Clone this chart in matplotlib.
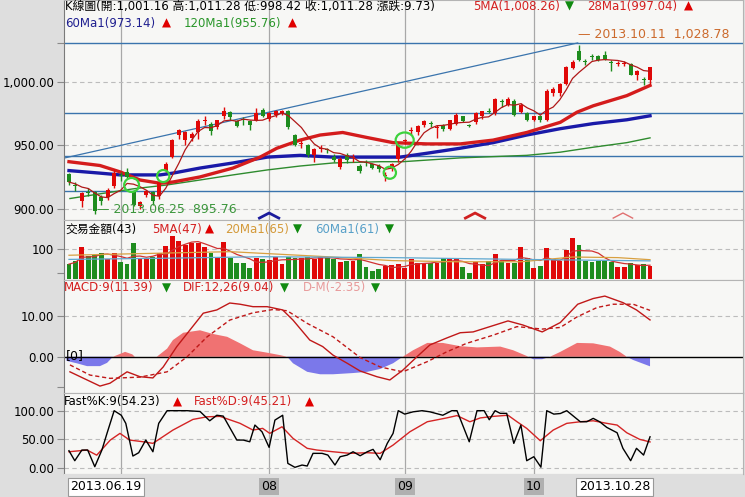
import numpy as np
import pandas as pd
import matplotlib
matplotlib.use('Agg')
import matplotlib.pyplot as plt
from matplotlib.patches import Ellipse

plt.rcParams['font.family'] = ['DejaVu Sans', 'Noto Sans CJK TC']

# ---- daily candles (2013.06.19 - 2013.10.28) ----
opens = [927, 918.5, 906, 913, 913, 909, 909, 918, 926, 929,
         914, 902, 911, 913, 910, 930, 941, 958, 954, 956,
         960, 969, 967, 964, 973, 976, 969, 969.8, 969, 970,
         978, 971, 974, 975, 977, 958, 951, 950, 942, 947,
         946.4, 941, 933, 942, 940, 934, 936.3, 935, 934, 925.8,
         932, 939, 953, 961.5, 960, 966, 967.3, 963.7, 966, 963,
         967, 972.6, 966, 968, 973, 976.3, 975, 984.3, 982, 985,
         976, 975, 970, 973, 970, 991, 991, 998, 1011, 1024,
         1015.9, 1019.7, 1020, 1021, 1015.3, 1013.7, 1013.7, 1014, 1005.5, 1001.8,
         1001.16]
highs = [928, 921, 913, 916, 914, 911, 916, 931, 929, 932,
         915, 906, 915, 914, 922, 937, 955, 963, 961, 960,
         971, 973, 968, 970, 980, 977, 970, 972, 970, 979,
         979, 976, 978, 978, 978, 959, 954, 951, 948, 950,
         948, 943, 941, 944, 943, 935, 938, 936, 935, 929,
         936, 951, 955, 964, 966, 970, 969, 966, 967, 970,
         975, 973, 967, 976, 977, 979, 987, 986, 988, 986,
         983, 976, 973, 974, 994, 996, 999, 1012, 1017, 1028.78,
         1018, 1022, 1021, 1024, 1017, 1016, 1016, 1015, 1009, 1004,
         1011.28]
lows = [919, 914, 901, 910, 895.76, 903, 907, 916, 922, 924,
        902, 900, 909, 903, 908, 929, 940, 955, 950, 953,
        955, 966, 958, 963, 971, 970, 964, 966, 962, 969,
        972, 969, 972, 974, 963, 949, 948, 941, 937, 945,
        944, 937, 931, 936, 937, 928, 934, 931, 929, 922,
        930, 937, 951, 958, 958, 964, 964, 956, 961, 962,
        966, 968, 964, 967, 971, 975, 974, 980, 981, 973,
        975, 969, 969, 968, 969, 989, 989, 997, 1010, 1016,
        1013, 1017, 1016, 1017, 1008.6, 1012, 1012, 1005, 1001.5, 997,
        998.42]
closes = [921, 918, 912, 912.5, 898, 906, 915, 928, 925.5, 925,
          903, 905, 914, 906, 921, 935, 954, 962, 960, 959,
          969, 969.5, 961, 969.5, 976.6, 972, 965, 969.5, 966, 975,
          973, 975, 977, 977, 964, 950, 951.5, 942, 947, 947.6,
          946, 938, 939, 938, 940.3, 930, 936, 932, 931, 926,
          935, 950, 953.3, 961.7, 965, 969, 967, 964, 963, 969.5,
          974, 969, 965, 975, 976.6, 976, 986.7, 984, 986.7, 974,
          982, 970, 972.6, 970, 993, 994.5, 998, 1011.7, 1015.6, 1017,
          1015.6, 1019.5, 1017, 1018, 1015, 1014, 1014, 1005.5, 1008.6, 1001.55,
          1011.28]
volume = [50, 62, 107, 78, 80, 89, 66, 86, 58, 50,
          122, 70, 66, 75, 86, 111, 145, 129, 114, 122,
          120, 109, 89, 73, 126, 70, 55, 53, 36, 70,
          66, 64, 73, 50, 73, 70, 70, 75, 66, 73,
          75, 66, 58, 62, 61, 84, 39, 28, 33, 44,
          47, 50, 36, 66, 55, 55, 55, 55, 70, 66,
          66, 39, 19, 58, 50, 61, 84, 62, 53, 53,
          109, 70, 36, 44, 103, 66, 62, 98, 139, 114,
          62, 58, 62, 62, 58, 39, 39, 53, 47, 50,
          43]

# long moving averages (day index, value)
ma28_x = [0, 4.8, 7.9, 11.0, 14.1, 16.1, 20.3, 25.4, 29.6, 32.2, 35.8, 38.9, 42.4,
          46.2, 50.2, 55.5, 60.6, 65.7, 70.9, 76.1, 78.7, 81.2, 86.4, 90]
ma28_y = [937, 934, 929, 922.6, 920, 921, 925, 932, 940.6, 947.6, 954, 958, 960,
          956, 952, 951, 951, 954, 960, 968, 976, 981, 989, 997.04]
ma60_x = [0, 4.8, 7.9, 14.1, 16.1, 20.3, 25.4, 30.7, 35.8, 40.9, 45.1, 51.3, 55.5,
          60.6, 65.7, 70.9, 76.1, 81.2, 86.4, 90]
ma60_y = [930, 928, 926.6, 926.6, 928, 932, 936, 940.6, 942, 940.6, 940.6, 940.6, 943.7,
          947.6, 952, 958, 963, 967, 970, 973.14]
ma120_x = [0.15, 4.8, 9.9, 15.2, 20.3, 25.4, 30.7, 35.8, 40.9, 48.2, 51.7, 60.6, 70.9,
           76.1, 81.2, 86.4, 90]
ma120_y = [908, 911.7, 915.6, 918.7, 922.6, 926.6, 930.5, 933.6, 936, 937, 937, 940, 942,
           944.5, 948.4, 952, 955.76]

# drawn support / resistance lines
h_levels = [1030.5, 975.5, 941.6, 914.0]
trend_x = [-0.8, 78.8]
trend_y = [939.8, 1030.5]

# volume moving averages (read)
vma20_x = [0, 10, 25, 40, 50, 60, 70, 78, 85, 90]
vma20_y = [80, 85, 92, 75, 62, 58, 58, 74, 72, 65]
vma60_x = [0, 15, 30, 50, 70, 90]
vma60_y = [66, 70, 75, 72, 66, 61]

# MACD panel (read)
dif_x = [0.15, 4.8, 6.35, 9.0, 11.0, 13.0, 14.6, 16.7, 20.8, 22.9, 24.9, 26.5, 28.5, 30.7,
         33.1, 34.7, 37.3, 39.3, 40.9, 43.1, 45.1, 47.7, 49.7, 51.7, 53.9, 55.9, 58.5,
         60.6, 62.6, 65.2, 68.0, 70.3, 73.3, 76.1, 78.8, 81.2, 83.0, 85.8, 87.9, 90]
dif_y = [-3.7, -7.2, -6.5, -3.7, -4.9, -5.2, -2.5, 2.5, 10.7, 11.5, 13.2, 12.9, 12.3, 12.3,
         11.5, 9.0, 4.1, 2.5, 0.4, -1.6, -3.5, -4.9, -5.7, -3.3, 0.0, 2.9, 4.6,
         5.9, 6.1, 7.4, 8.8, 7.8, 6.1, 8.4, 12.9, 14.3, 14.9, 13.3, 11.5, 9.04]
macd_x = [0.15, 3.25, 6.35, 11.0, 15.2, 18.3, 21.4, 24.9, 28.5, 31.6, 33.8, 36.9, 40.9,
          45.1, 48.2, 51.7, 55.5, 58.5, 61.6, 65.7, 69.4, 73.3, 76.1, 78.7, 81.8, 84.3,
          87.4, 90]
macd_y = [-2.0, -4.5, -5.3, -5.0, -3.7, 0.0, 4.9, 9.0, 10.8, 11.6, 11.3, 8.2, 4.9,
          -0.2, -2.5, -3.7, -1.2, 1.2, 3.3, 5.3, 7.4, 6.8, 7.2, 9.8, 12.1, 12.9,
          12.9, 11.39]
hist_x = [-0.4, 1.2, 2.8, 4.8, 5.9, 6.8, 7.6, 8.7, 9.8, 10.2, 13.6, 15.2, 16.1, 17.7,
          20.3, 22.3, 24.5, 26.5, 28.5, 30.7, 32.7, 33.8, 34.7, 36.9, 38.9, 40.9, 44.0,
          46.2, 48.2, 50.2, 51.7, 53.3, 55.5, 57.9, 60.6, 63.2, 66.8, 68.8, 70.9, 71.9,
          73.3, 74.5, 76.1, 78.7, 81.2, 83.8, 85.3, 86.4, 87.4, 90.0]
hist_y = [-1.0, -1.6, -2.3, -2.3, -1.5, 0.0, 0.5, 1.2, 0.6, 0.0, 0.0, 2.0, 4.1, 5.9,
          6.5, 5.6, 4.9, 3.3, 1.6, 1.0, 0.4, 0.0, -1.6, -3.7, -4.3, -4.3, -4.0,
          -3.7, -3.0, -1.6, 0.0, 1.6, 3.4, 3.4, 2.6, 2.3, 2.5, 1.6, 0.2, -0.6,
          -0.6, 0.0, 1.2, 3.4, 3.3, 2.5, 1.2, 0.0, -0.8, -2.35]

# Fast KD panel (read)
k_x = [0, 0.9, 2.0, 2.9, 4.0, 5.1, 5.9, 7.0, 8.1, 8.8, 9.9, 10.8, 11.9, 13.0, 13.9, 15.2,
       18.3, 20.3, 21.8, 22.9, 23.9, 26.0, 27.0, 28.0, 28.8, 29.9, 31.0, 31.9, 33.1, 33.9,
       35.0, 36.1, 36.9, 37.8, 39.2, 40.1, 41.2, 42.0, 43.1, 44.0, 45.1, 46.2, 47.1, 48.2,
       49.3, 50.2, 51.0, 52.0, 53.3, 54.7, 55.9, 57.9, 59.3, 60.1, 62.0, 63.2, 64.3, 65.1,
       66.0, 66.8, 67.8, 68.9, 70.0, 70.9, 72.0, 73.1, 74.0, 75.1, 76.1, 77.1, 79.2, 80.2,
       81.2, 82.2, 83.3, 84.9, 85.8, 87.0, 87.9, 89.0, 90]
k_y = [29.8, 12.3, 31, 31, 1.8, 31, 60.6, 100, 92, 77.8, 20.5, 26.3, 48.5, 28, 77.8, 100,
       100, 98.6, 82.3, 92, 90.5, 48.5, 48.5, 45.5, 74.8, 63, 35.7, 83.5, 92, 7.6,
       0.7, 4.7, 3, 25.2, 25.2, 22.2, 4.7, 19.3, 22.2, 28, 21, 28, 32.2, 14,
       42.7, 60.2, 100, 94, 98, 100, 98, 92, 100, 100, 45.5, 100, 100, 84.1,
       100, 95.3, 95.3, 42.7, 74.8, 12.3, 19.3, 1.0, 100, 94, 95, 100, 80.6, 80.6,
       86.5, 80.6, 70.7, 61.3, 34, 12.3, 34, 22.2, 54.23]
d_x = [0, 2.8, 4.3, 6.4, 7.9, 9.4, 11.5, 13.0, 16.1, 19.2, 21.4, 23.4, 26.5, 28.5, 30.0,
       31.1, 33.0, 34.7, 36.9, 38.4, 40.9, 43.5, 46.2, 48.2, 50.2, 52.8, 55.5, 58.5, 60.1,
       62.1, 63.7, 65.7, 68.0, 69.4, 70.9, 73.0, 75.0, 77.1, 79.2, 81.2, 83.3, 84.9, 86.4,
       88.4, 90]
d_y = [28, 31, 22, 48.5, 60.2, 48.5, 45.5, 42.7, 66, 84.7, 89.3, 90, 77.8, 66, 69,
       60.2, 71.8, 51.5, 34, 31, 28, 25.2, 26.3, 25.2, 39.7, 63, 80.6, 87.3, 91.4,
       80.6, 87.3, 90, 92, 80.6, 69, 47.3, 66, 77.8, 80.6, 82.3, 77.8, 74.8, 61.3,
       49.7, 45.21]

month_idx = [8, 31, 52, 72]
month_labels = ['', '08', '09', '10']
circles = [(9.7, 918.7, 2.3, 11), (14.6, 925.7, 1.9, 9.5), (52.0, 954.0, 2.8, 12), (49.7, 928.3, 1.9, 9.5)]
peaks = [(31, '#1c1c9c', 2.0), (62.9, '#d02020', 2.0), (85.8, '#e07070', 1.0)]

RED = '#e00808'
GREEN = '#1e8c1e'
BG = '#f7f7f5'
GRID = '#a8a8a8'
HS = 8.5  # header font size

W, H = 745, 497
fig = plt.figure(figsize=(W / 100, H / 100), dpi=100, facecolor='#dedede')


def px_axes(x0, y0, x1, y1):
    return fig.add_axes([x0 / W, 1 - y1 / H, (x1 - x0) / W, (y1 - y0) / H])


def ftext(x, y, s, color='black', size=HS):
    fig.text(x / W, 1 - y / H, s, color=color, fontsize=size, va='center', ha='left')


def style(ax, ylim):
    ax.set_facecolor(BG)
    ax.set_xlim(-0.77, 104.4)
    ax.set_ylim(*ylim)
    ax.set_xticks([])
    for s in ax.spines.values():
        s.set_color('#b4b4b4')
        s.set_linewidth(0.8)
    ax.spines['left'].set_color('#7a7a7a')
    ax.tick_params(axis='y', direction='out', length=5, width=0.8, color='#8a8a8a',
                   labelsize=8.5, pad=2, labelcolor='black')
    for m in month_idx:
        ax.axvline(m, color=GRID, lw=0.9, zorder=0.5)


idx = np.arange(len(closes))
o = np.array(opens); h = np.array(highs); l = np.array(lows); c = np.array(closes)
cols = np.where(c >= o, RED, GREEN)

# ---- price panel ----
ax = px_axes(64, 0, 743, 220)
style(ax, (891.1, 1064.3))
ax.set_yticks([900, 950, 1000, 1030.5])
ax.set_yticklabels(['900.00', '950.00', '1,000.00', ''])
for v in [900, 950, 1000]:
    ax.axhline(v, color='#bcbcbc', lw=0.8, ls=(0, (4, 3)), zorder=0.6)
for v in h_levels:
    ax.axhline(v, color='#3a74ad', lw=1.0, zorder=1)
ax.plot(trend_x, trend_y, color='#3a74ad', lw=0.9, zorder=1)
ax.plot(ma120_x, ma120_y, color='#2e8b2e', lw=1.0, zorder=2)
ax.plot(ma60_x, ma60_y, color='#1a1aa8', lw=2.4, zorder=2)
ax.plot(ma28_x, ma28_y, color='#d41c1c', lw=2.4, zorder=2)
ma5 = pd.Series(closes).rolling(5, min_periods=1).mean()
ax.plot(idx, ma5, color='#b01818', lw=0.9, zorder=4)
ax.vlines(idx, l, h, colors=cols, lw=1, zorder=3)
ax.bar(idx, np.maximum(np.abs(c - o), 0.8), bottom=np.minimum(o, c), width=0.62,
       color=cols, linewidth=0, zorder=3)
for cx, cy, cw, ch in circles:
    ax.add_patch(Ellipse((cx, cy), cw, ch, fill=False, ec='#3cd23c', lw=1.6, zorder=5))
for px, pc, plw in peaks:
    ax.plot([px - 1.5, px, px + 1.5], [892.6, 896.6, 892.6], color=pc, lw=plw, zorder=5)
ax.text(4.3, 899.2, '\u2014 2013.06.25  895.76', color='#3c963c', fontsize=9, va='center')
ax.text(78.8, 1037.2, '\u2014 2013.10.11  1,028.78', color='#cc6a2c', fontsize=9, va='center')

ftext(65, 6.5, 'K線圖(開:1,001.16 高:1,011.28 低:998.42 收:1,011.28 漲跌:9.73)')
ftext(473, 6.5, '5MA(1,008.26)', '#d42020')
ftext(565, 6.5, '\u25bc', '#108a10')
ftext(587, 6.5, '28Ma1(997.04)', '#d42020')
ftext(684, 6.5, '\u25b2', '#e00000')
ftext(65, 23, '60Ma1(973.14)', '#202090')
ftext(162, 23, '\u25b2', '#e00000')
ftext(184, 23, '120Ma1(955.76)', '#2a962a')
ftext(288, 23, '\u25b2', '#e00000')

# ---- volume panel ----
axv = px_axes(64, 220, 743, 280)
style(axv, (-3.4, 198.7))
axv.set_yticks([21, 100])
axv.set_yticklabels(['', '100'])
axv.axhline(100, color='#bcbcbc', lw=0.8, ls=(0, (4, 3)), zorder=0.6)
axv.bar(idx, volume, width=0.75, color=cols, linewidth=0, zorder=2)
axv.plot(idx, pd.Series(volume).rolling(5, min_periods=1).mean(), color='#d03030', lw=0.9, zorder=3)
axv.plot(vma20_x, vma20_y, color='#d8a040', lw=0.9, zorder=3)
axv.plot(vma60_x, vma60_y, color='#60a8d0', lw=0.9, zorder=3)
ftext(65, 229, '交易金額(43)')
ftext(152, 229, '5MA(47)', '#d42020')
ftext(205, 229, '\u25b2', '#e00000')
ftext(225, 229, '20Ma1(65)', '#d49a3a')
ftext(293, 229, '\u25bc', '#108a10')
ftext(315, 229, '60Ma1(61)', '#58a0c8')
ftext(385, 229, '\u25bc', '#108a10')

# ---- MACD panel ----
axm = px_axes(64, 280, 743, 393)
style(axm, (-8.9, 18.85))
axm.set_yticks([-7.5, 0, 10])
axm.set_yticklabels(['', '0.00', '10.00'])
axm.axhline(10, color='#bcbcbc', lw=0.8, ls=(0, (4, 3)), zorder=0.6)
hx = np.array(hist_x); hy = np.array(hist_y)
axm.fill_between(hx, hy, 0, where=hy >= 0, interpolate=True, color='#f07272', lw=0, zorder=1)
axm.fill_between(hx, hy, 0, where=hy <= 0, interpolate=True, color='#7b78ea', lw=0, zorder=1)
axm.axhline(0, color='black', lw=1.0, zorder=2)
axm.plot(dif_x, dif_y, color='#c01818', lw=1.0, zorder=3)
axm.plot(macd_x, macd_y, color='#c01818', lw=1.0, ls=(0, (3, 2)), zorder=3)
axm.text(-0.45, 0.3, '[0]', fontsize=9, va='center', ha='left')
ftext(64, 288, 'MACD:9(11.39)', '#d42020')
ftext(162, 288, '\u25bc', '#108a10')
ftext(183, 288, 'DIF:12,26(9.04)', '#d42020')
ftext(280, 288, '\u25bc', '#108a10')
ftext(303, 288, 'D-M(-2.35)', '#e89a9a')
ftext(371, 288, '\u25bc', '#108a10')

# ---- Fast KD panel ----
axk = px_axes(64, 393, 743, 474)
style(axk, (-11, 131))
axk.set_yticks([0, 50, 100])
axk.set_yticklabels(['0.00', '50.00', '100.00'])
for v in [0, 50, 100]:
    axk.axhline(v, color='#bcbcbc', lw=0.8, ls=(0, (4, 3)), zorder=0.6)
axk.plot(d_x, d_y, color='#d42424', lw=1.0, zorder=2)
axk.plot(k_x, k_y, color='black', lw=1.0, zorder=3)
ftext(64, 402, 'Fast%K:9(54.23)')
ftext(173, 402, '\u25b2', '#e00000')
ftext(194, 402, 'Fast%D:9(45.21)', '#d42020')
ftext(305, 402, '\u25b2', '#e00000')

# ---- date axis ----
axd = px_axes(64, 474, 743, 497)
axd.set_facecolor('#dedede')
axd.set_xlim(-0.77, 104.4)
axd.set_ylim(0, 1)
axd.set_xticks([]); axd.set_yticks([])
for s in axd.spines.values():
    s.set_visible(False)
for m, lab in zip(month_idx, month_labels):
    if lab:
        axd.text(m, 0.45, lab, fontsize=9, ha='center', va='center',
                 bbox=dict(boxstyle='square,pad=0.15', fc='#b0b0b0', ec='none'))
axd.text(0.2, 0.45, '2013.06.19', fontsize=9, ha='left', va='center',
         bbox=dict(boxstyle='square,pad=0.2', fc='white', ec='#999999', lw=0.8))
axd.text(90, 0.45, '2013.10.28', fontsize=9, ha='right', va='center',
         bbox=dict(boxstyle='square,pad=0.2', fc='white', ec='#999999', lw=0.8))

fig.savefig('out.png', dpi=100, facecolor=fig.get_facecolor())
